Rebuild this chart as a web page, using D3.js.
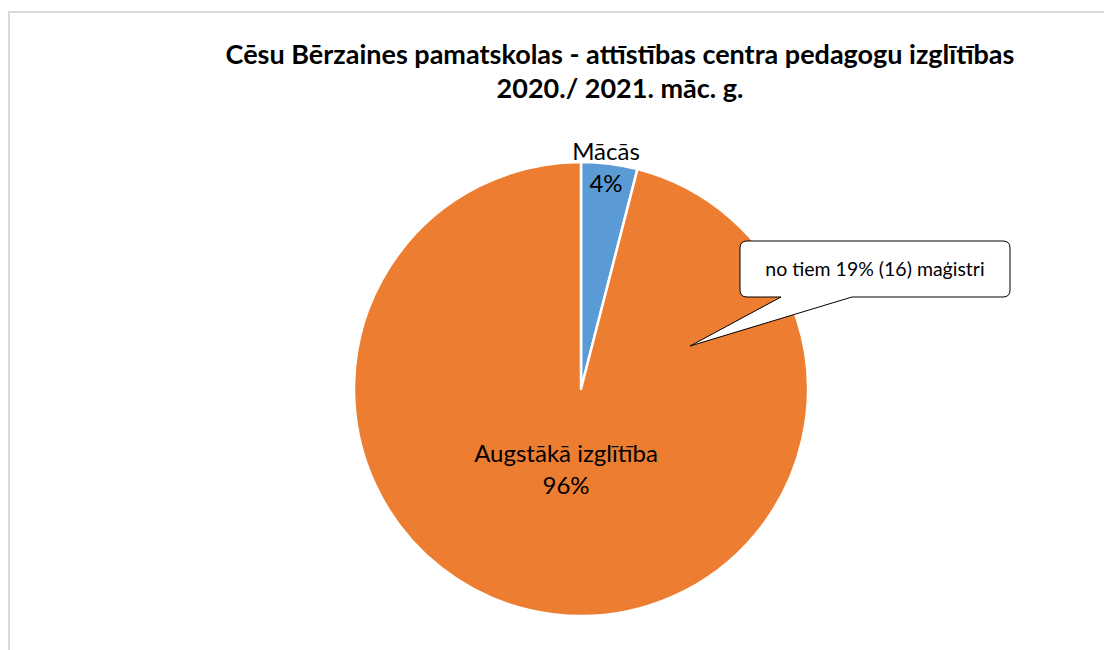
<!DOCTYPE html>
<html>
<head>
<meta charset="utf-8">
<script src="https://cdn.jsdelivr.net/npm/d3@7"></script>
<style>
  body { margin: 0; background: #fff; }
  text { font-family: Lato, "Open Sans", sans-serif; }
</style>
</head>
<body>
<div id="chart"></div>
<script>
// data
var categories = ["Mācās", "Augstākā izglītība"];
var values = [4, 96];
var colors = ["#5b9bd5", "#ed7d31"];
var titleLines = ["Cēsu Bērzaines pamatskolas - attīstības centra pedagogu izglītības", "2020./ 2021. māc. g."];
var calloutText = "no tiem 19% (16) maģistri";

var width = 1104, height = 650;
var cx = 581, cy = 389, radius = 227;

var svg = d3.select("#chart")
  .append("svg")
  .attr("width", width)
  .attr("height", height);

// chart area border
svg.append("path")
  .attr("d", "M9,650 V12 H1104")
  .attr("fill", "none")
  .attr("stroke", "#d9d9d9")
  .attr("stroke-width", 2);

// title
svg.selectAll(".title")
  .data(titleLines)
  .enter()
  .append("text")
  .attr("class", "title")
  .attr("x", 620)
  .attr("y", function(d, i) { return 64 + i * 34; })
  .attr("text-anchor", "middle")
  .style("font-size", "27px")
  .style("font-weight", "bold")
  .attr("fill", "#000")
  .text(function(d) { return d; });

var data = categories.map(function(c, i) { return {name: c, value: values[i]}; });
var total = d3.sum(values);

var pie = d3.pie().sort(null).value(function(d) { return d.value; });
var arc = d3.arc().innerRadius(0).outerRadius(radius);

var g = svg.append("g")
  .attr("transform", "translate(" + cx + "," + cy + ")");

g.selectAll("path")
  .data(pie(data))
  .enter()
  .append("path")
  .attr("d", arc)
  .attr("fill", function(d, i) { return colors[i]; })
  .attr("stroke", "#fff")
  .attr("stroke-width", 2.5)
  .attr("stroke-linejoin", "round");

// labels
var labelPos = [[25, -229], [-15, 73]];
var labels = g.selectAll(".lbl")
  .data(pie(data))
  .enter()
  .append("text")
  .attr("class", "lbl")
  .attr("text-anchor", "middle")
  .style("font-size", "24px")
  .attr("fill", "#000")
  .attr("transform", function(d, i) { return "translate(" + labelPos[i][0] + "," + labelPos[i][1] + ")"; });

labels.append("tspan")
  .attr("x", 0)
  .attr("dy", 0)
  .text(function(d) { return d.data.name; });
labels.append("tspan")
  .attr("x", 0)
  .attr("dy", 32)
  .text(function(d) { return Math.round(d.data.value / total * 100) + "%"; });

// callout
var bx = 740, by = 241, bw = 270, bh = 56, r = 7;
var callout = "M" + (bx + r) + "," + by +
  " H" + (bx + bw - r) + " Q" + (bx + bw) + "," + by + " " + (bx + bw) + "," + (by + r) +
  " V" + (by + bh - r) + " Q" + (bx + bw) + "," + (by + bh) + " " + (bx + bw - r) + "," + (by + bh) +
  " H852 L690,346 L781," + (by + bh) +
  " H" + (bx + r) + " Q" + bx + "," + (by + bh) + " " + bx + "," + (by + bh - r) +
  " V" + (by + r) + " Q" + bx + "," + by + " " + (bx + r) + "," + by + " Z";

svg.append("path")
  .attr("d", callout)
  .attr("fill", "#fff")
  .attr("stroke", "#000")
  .attr("stroke-width", 1);

svg.append("text")
  .attr("x", bx + bw / 2)
  .attr("y", by + 35)
  .attr("text-anchor", "middle")
  .style("font-size", "19.5px")
  .attr("fill", "#000")
  .text(calloutText);
</script>
</body>
</html>
